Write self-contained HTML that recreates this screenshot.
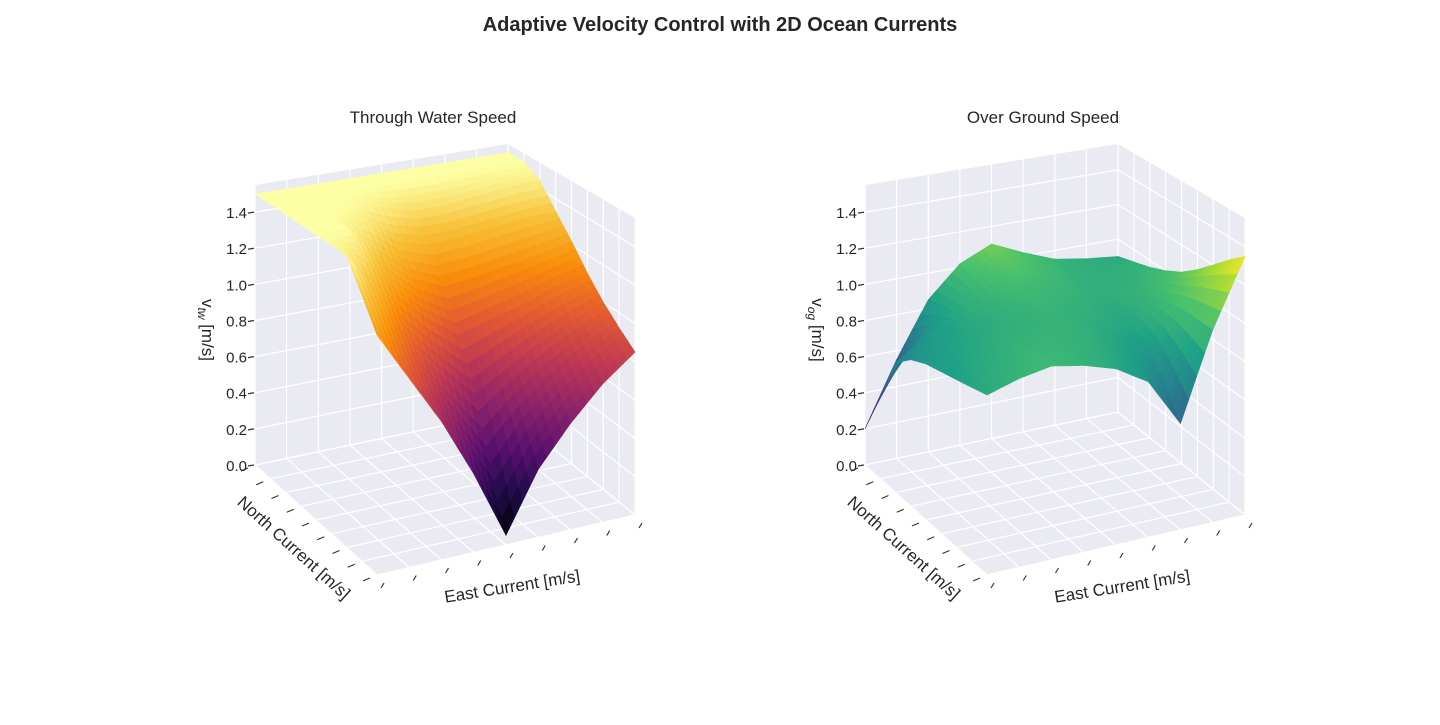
<!DOCTYPE html>
<html><head><meta charset="utf-8">
<style>
html,body{margin:0;padding:0;background:#fff;}
body{width:1440px;height:720px;overflow:hidden;font-family:"Liberation Sans",Arial,sans-serif;}
svg text{font-family:"Liberation Sans",Arial,sans-serif;fill:#262626;}
</style></head>
<body>
<svg id="fig" width="1440" height="720" viewBox="0 0 1440 720" xmlns="http://www.w3.org/2000/svg">
<text x="720" y="31" text-anchor="middle" font-size="20" font-weight="bold">Adaptive Velocity Control with 2D Ocean Currents</text>
<g id="p1"></g>
<g id="p2"></g>
</svg>
<script>
// ---- data ----
const eastTicks = [-1,-0.75,-0.5,-0.25,0,0.25,0.5,0.75,1];
const northTicks = [-1,-0.75,-0.5,-0.25,0,0.25,0.5,0.75,1];
const zTicks = [0,0.2,0.4,0.6,0.8,1.0,1.2,1.4];
const zTickLabels = ["0.0","0.2","0.4","0.6","0.8","1.0","1.2","1.4"];
// rows = north index, cols = east index
const vTW = [
 [1.20,0.95,0.70,0.40,0.05,0.35,0.55,0.72,0.85],
 [1.35,1.10,0.85,0.60,0.35,0.55,0.70,0.82,0.92],
 [1.50,1.25,1.00,0.82,0.65,0.75,0.85,0.93,1.00],
 [1.50,1.40,1.18,1.02,0.90,0.95,1.00,1.06,1.10],
 [1.50,1.50,1.32,1.18,1.10,1.12,1.15,1.18,1.22],
 [1.50,1.50,1.45,1.32,1.27,1.28,1.30,1.32,1.33],
 [1.50,1.50,1.50,1.45,1.40,1.40,1.42,1.44,1.45],
 [1.50,1.50,1.50,1.50,1.50,1.50,1.50,1.50,1.50],
 [1.50,1.50,1.50,1.50,1.50,1.50,1.50,1.50,1.50]
];
const vOG = [
 [0.90,0.95,0.98,0.95,0.90,0.80,0.55,1.00,1.35],
 [0.88,0.93,0.97,0.96,0.92,0.85,0.70,1.00,1.28],
 [0.86,0.91,0.95,0.96,0.94,0.88,0.82,1.00,1.20],
 [0.84,0.89,0.93,0.95,0.95,0.91,0.88,0.98,1.12],
 [0.82,0.87,0.91,0.94,0.95,0.93,0.90,0.96,1.05],
 [0.78,0.85,0.90,0.94,0.97,0.95,0.92,0.94,1.00],
 [0.70,0.82,0.90,0.96,1.00,0.97,0.93,0.92,0.96],
 [0.45,0.70,0.88,0.99,1.05,1.00,0.94,0.92,0.93],
 [0.20,0.55,0.85,1.02,1.10,1.02,0.95,0.92,0.90]
];
const INFERNO = ["#000004","#1f0c48","#57106e","#8a226a","#bc3754","#e45a31","#f98e09","#f7c23a","#fcffa4"];
const VIRIDIS = ["#440154","#46327e","#365c8d","#277f8e","#1fa187","#4ac16d","#a0da39","#fde725"];

const NS="http://www.w3.org/2000/svg";
const ZMAX=1.55;
function hex(c){return [parseInt(c.slice(1,3),16),parseInt(c.slice(3,5),16),parseInt(c.slice(5,7),16)];}
function cmap(stops,t){t=Math.max(0,Math.min(1,t));const n=stops.length-1;const i=Math.min(n-1,Math.floor(t*n));const f=t*n-i;const a=hex(stops[i]),b=hex(stops[i+1]);return "rgb("+a.map((x,k)=>Math.round(x+(b[k]-x)*f)).join(",")+")";}

function makeProj(dx){
  const F=[377+dx,575],R=[635+dx,515],L=[255+dx,465],B=[508+dx,412];
  return function(u,v,z){
    const a=(1-u)*(1-v),b=u*(1-v),c=(1-u)*v,d=u*v;
    const x=F[0]*a+R[0]*b+L[0]*c+B[0]*d;
    const y=F[1]*a+R[1]*b+L[1]*c+B[1]*d;
    const H=310*a+297*b+280*c+268*d;
    return [x,y-H*z/ZMAX];
  };
}
function el(tag,attrs,parent){const e=document.createElementNS(NS,tag);for(const k in attrs)e.setAttribute(k,attrs[k]);parent.appendChild(e);return e;}
function pts(arr){return arr.map(p=>p[0].toFixed(1)+","+p[1].toFixed(1)).join(" ");}

function drawPlot(g,dx,data,stops,title,zsub){
  const P=makeProj(dx);
  const uS=t=>(t-eastTicks[0])/(eastTicks[eastTicks.length-1]-eastTicks[0]);
  const vS=t=>(t-northTicks[0])/(northTicks[northTicks.length-1]-northTicks[0]);
  const pane="#eaeaf2";
  const floor=el("polygon",{points:pts([P(0,0,0),P(1,0,0),P(1,1,0),P(0,1,0)]),fill:pane},g);
  
  const wl=el("polygon",{points:pts([P(0,1,0),P(1,1,0),P(1,1,ZMAX),P(0,1,ZMAX)]),fill:pane},g);
  
  const wr=el("polygon",{points:pts([P(1,0,0),P(1,1,0),P(1,1,ZMAX),P(1,0,ZMAX)]),fill:pane},g);
  
  const grid=el("g",{stroke:"#fff","stroke-width":"1.2",fill:"none"},g);
  
  eastTicks.forEach(t=>{const u=uS(t);
    el("polyline",{points:pts([P(u,0,0),P(u,1,0),P(u,1,ZMAX)])},grid);});
  northTicks.forEach(t=>{const v=vS(t);
    el("polyline",{points:pts([P(0,v,0),P(1,v,0),P(1,v,ZMAX)])},grid);});
  zTicks.forEach(z=>{el("polyline",{points:pts([P(0,1,z),P(1,1,z),P(1,0,z)])},grid);});
  const tk=el("g",{stroke:"#333","stroke-width":"1.2"},g);
  
  northTicks.forEach(t=>{const p=P(0,vS(t),0);el("line",{x1:p[0]-14,y1:p[1]+6,x2:p[0]-7,y2:p[1]+3},tk);});
  eastTicks.forEach(t=>{const p=P(uS(t),0,0);el("line",{x1:p[0]+4,y1:p[1]+13,x2:p[0]+7,y2:p[1]+8},tk);});
  zTicks.forEach((z,i)=>{const p=P(0,1,z);el("line",{x1:p[0]-7,y1:p[1]+1,x2:p[0]-1,y2:p[1]},tk);
    const lb=el("text",{x:p[0]-8,y:p[1]+6,"text-anchor":"end","font-size":"15"},g);
    
    lb.textContent=zTickLabels[i];});
  let mn=Infinity,mx=-Infinity;data.forEach(r=>r.forEach(v=>{mn=Math.min(mn,v);mx=Math.max(mx,v);}));
  const nE=eastTicks.length,nN=northTicks.length,S=4;
  const quads=[];
  for(let n=0;n<nN-1;n++)for(let e=0;e<nE-1;e++){
    const z00=data[n][e],z10=data[n][e+1],z01=data[n+1][e],z11=data[n+1][e+1];
    const u0=uS(eastTicks[e]),u1=uS(eastTicks[e+1]),v0=vS(northTicks[n]),v1=vS(northTicks[n+1]);
    for(let i=0;i<S;i++)for(let j=0;j<S;j++){
      const cs=[[i/S,j/S],[(i+1)/S,j/S],[(i+1)/S,(j+1)/S],[i/S,(j+1)/S]];
      const ps=[],zs=[];
      cs.forEach(c=>{const z=z00*(1-c[0])*(1-c[1])+z10*c[0]*(1-c[1])+z01*(1-c[0])*c[1]+z11*c[0]*c[1];
        zs.push(z);ps.push(P(u0+(u1-u0)*c[0],v0+(v1-v0)*c[1],z));});
      const za=zs.reduce((a,b)=>a+b)/4;
      const ua=u0+(u1-u0)*(i+.5)/S,va=v0+(v1-v0)*(j+.5)/S;
      quads.push({ps,za,d:ua+va});
    }
  }
  quads.sort((a,b)=>b.d-a.d);
  const surf=el("g",{},g);
  
  quads.forEach(q=>{const c=cmap(stops,(q.za-mn)/(mx-mn));
    const pg=el("polygon",{points:pts(q.ps),fill:c,stroke:c,"stroke-width":"0.6"},surf);
    });
  const st=el("text",{x:433+dx,y:123,"text-anchor":"middle","font-size":"17"},g);
  st.textContent=title;
  const nt=el("text",{x:0,y:0,"text-anchor":"middle","font-size":"17",transform:`translate(${290+dx},${552}) rotate(42)`},g);
  nt.textContent="North Current [m/s]";
  const et=el("text",{x:0,y:0,"text-anchor":"middle","font-size":"17",transform:`translate(${513+dx},${592}) rotate(-9)`},g);
  et.textContent="East Current [m/s]";
  const zt=el("text",{x:0,y:0,"text-anchor":"middle","font-size":"17",transform:`translate(${202+dx},${330}) rotate(90)`},g);
  
  zt.innerHTML=`v<tspan font-size="12" dy="4" font-style="italic">${zsub}</tspan><tspan dy="-4"> [m/s]</tspan>`;
}
drawPlot(document.getElementById('p1'),0,vTW,INFERNO,"Through Water Speed","tw");
drawPlot(document.getElementById('p2'),610,vOG,VIRIDIS,"Over Ground Speed","og");
</script>
</body></html>
